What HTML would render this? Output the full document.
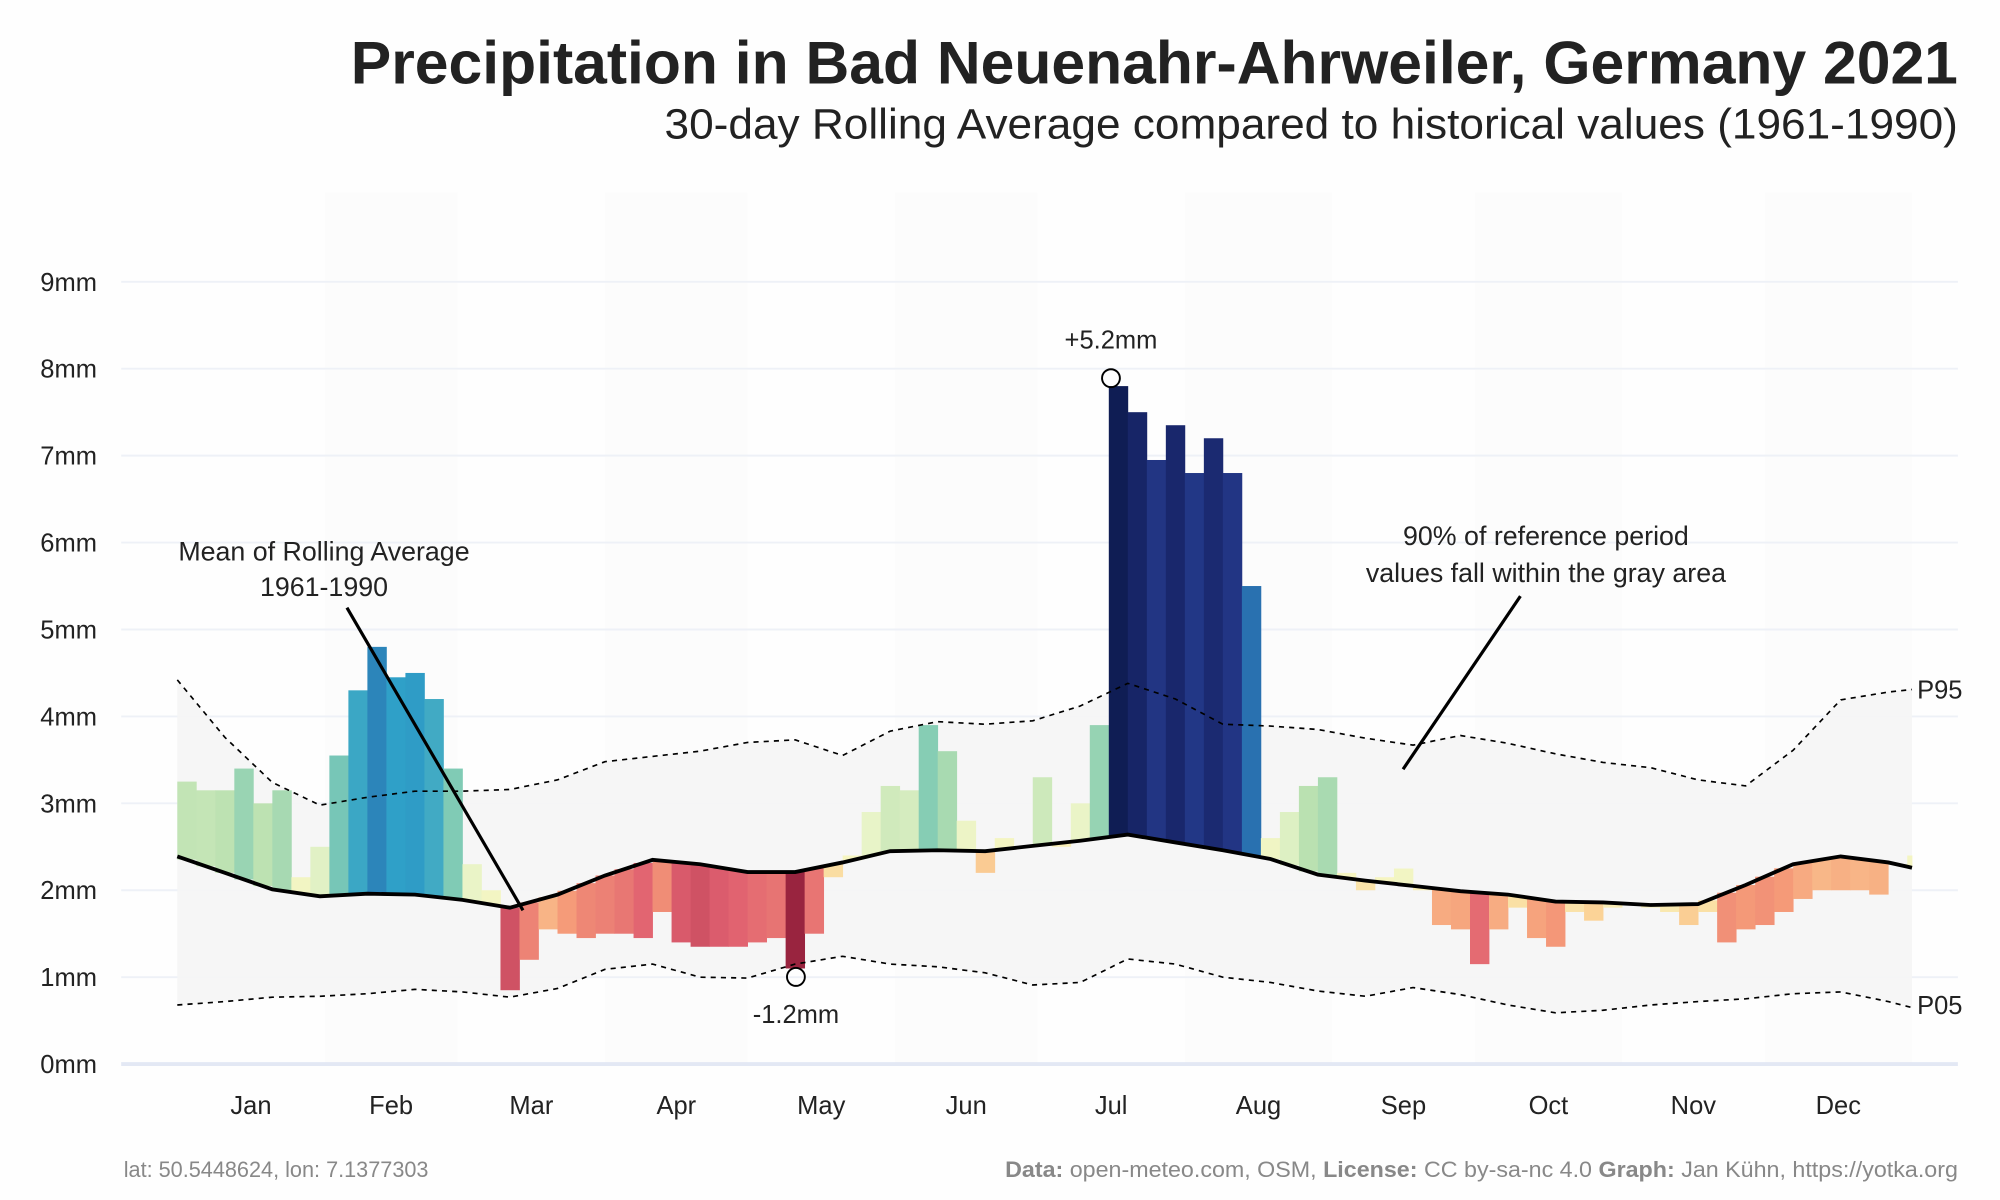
<!DOCTYPE html>
<html><head><meta charset="utf-8"><style>
html,body{margin:0;padding:0;background:#fff;}
svg{display:block;font-family:"Liberation Sans",sans-serif;}
</style></head><body>
<svg id="chart" width="2000" height="1200" viewBox="0 0 1568 936" preserveAspectRatio="none" xmlns="http://www.w3.org/2000/svg">
<rect x="0" y="0" width="1568" height="936" fill="#fefefe"/>
<g id="bands"></g>
<g id="grid"></g>
<path id="band" fill="#f5f5f5" opacity="0.9"/>
<g id="bars"></g>
<path id="p95" fill="none" stroke="#000" stroke-width="1.3" stroke-dasharray="4,4"/>
<path id="p05" fill="none" stroke="#000" stroke-width="1.3" stroke-dasharray="4,4"/>
<path id="meanline" fill="none" stroke="#000" stroke-width="3"/>
<g id="ylabels"></g>
<g id="xlabels"></g>
<text x="1535" y="65" text-anchor="end" font-size="47" font-weight="bold" fill="#222" textLength="1260" lengthAdjust="spacingAndGlyphs">Precipitation in Bad Neuenahr-Ahrweiler, Germany 2021</text>
<text x="1535" y="108" text-anchor="end" font-size="33" fill="#222" textLength="1014" lengthAdjust="spacingAndGlyphs">30-day Rolling Average compared to historical values (1961-1990)</text>
<text x="254" y="437" text-anchor="middle" font-size="21" fill="#222">Mean of Rolling Average</text>
<text x="254" y="465" text-anchor="middle" font-size="21" fill="#222">1961-1990</text>
<line x1="272" y1="474" x2="410" y2="710" stroke="#000" stroke-width="2.5"/>
<text x="1212" y="425" text-anchor="middle" font-size="21" fill="#222">90% of reference period</text>
<text x="1212" y="454" text-anchor="middle" font-size="21" fill="#222">values fall within the gray area</text>
<line x1="1192" y1="465" x2="1100" y2="600" stroke="#000" stroke-width="2.5"/>
<text x="871" y="272" text-anchor="middle" font-size="20" fill="#222">+5.2mm</text>
<circle cx="871" cy="295" r="7" fill="none" stroke="#000" stroke-width="1.5"/>
<text x="624" y="798" text-anchor="middle" font-size="20" fill="#222">-1.2mm</text>
<circle cx="624" cy="762" r="7" fill="none" stroke="#000" stroke-width="1.5"/>
<text x="1503" y="545" font-size="20" fill="#222">P95</text>
<text x="1503" y="791" font-size="20" fill="#222">P05</text>
<text x="97" y="918" font-size="17" fill="#888">lat: 50.5448624, lon: 7.1377303</text>
<text x="1535" y="918" text-anchor="end" font-size="17" fill="#888" textLength="747" lengthAdjust="spacingAndGlyphs"><tspan font-weight="bold">Data:</tspan> open-meteo.com, OSM, <tspan font-weight="bold">License:</tspan> CC by-sa-nc 4.0  <tspan font-weight="bold">Graph:</tspan> Jan Kühn, https://yotka.org</text>
</svg>
<script>
const refDays = [0,10,20,30,40,50,60,70,80,90,100,110,120,130,140,150,160,170,180,190,200,210,220,230,240,250,260,270,280,290,300,310,320,330,340,350,360,365];
const meanVals = [2.39,2.20,2.01,1.93,1.96,1.95,1.89,1.80,1.95,2.17,2.35,2.30,2.21,2.21,2.32,2.45,2.46,2.45,2.51,2.57,2.64,2.55,2.46,2.36,2.18,2.11,2.05,1.99,1.95,1.87,1.86,1.83,1.84,2.06,2.30,2.39,2.32,2.26];
const p95Vals = [4.42,3.76,3.24,2.98,3.07,3.14,3.14,3.16,3.27,3.48,3.54,3.60,3.70,3.73,3.55,3.83,3.94,3.91,3.95,4.12,4.38,4.20,3.91,3.89,3.85,3.75,3.67,3.78,3.69,3.57,3.47,3.41,3.27,3.20,3.61,4.19,4.28,4.31];
const p05Vals = [0.68,0.72,0.77,0.78,0.81,0.86,0.83,0.77,0.87,1.09,1.15,1.00,0.99,1.15,1.24,1.15,1.12,1.05,0.91,0.94,1.21,1.15,1.00,0.94,0.84,0.78,0.88,0.80,0.68,0.59,0.62,0.68,0.72,0.75,0.81,0.83,0.72,0.65];
const rollStep = 4;
const rollVals = [3.25,3.15,3.15,3.4,3.0,3.15,2.15,2.5,3.55,4.3,4.8,4.45,4.5,4.2,3.4,2.3,2.0,0.85,1.2,1.55,1.5,1.45,1.5,1.5,1.45,1.75,1.4,1.35,1.35,1.35,1.4,1.45,1.1,1.5,2.15,2.4,2.9,3.2,3.15,3.9,3.6,2.8,2.2,2.6,2.5,3.3,2.5,3.0,3.9,7.8,7.5,6.95,7.35,6.8,7.2,6.8,5.5,2.6,2.9,3.2,3.3,2.2,2.0,2.15,2.25,2.0,1.6,1.55,1.15,1.55,1.8,1.45,1.35,1.75,1.65,1.8,1.85,1.8,1.75,1.6,1.75,1.4,1.55,1.6,1.75,1.9,2.0,2.0,2.0,1.95,2.3,2.4];
const yTicks = [0,1,2,3,4,5,6,7,8,9];
const monthNames = ["Jan","Feb","Mar","Apr","May","Jun","Jul","Aug","Sep","Oct","Nov","Dec"];
const monthStarts = [0,31,59,90,120,151,181,212,243,273,304,334,365];

const X0=139, X1=1499, Y0=830, PXMM=67.8;
function xs(d){return X0+(X1-X0)*d/365;}
function ys(v){return Y0-v*PXMM;}
function interp(arr,d){for(let i=0;i<refDays.length-1;i++){if(d<=refDays[i+1]){const t=(d-refDays[i])/(refDays[i+1]-refDays[i]);return arr[i]+(arr[i+1]-arr[i])*t;}}return arr[arr.length-1];}
const NS="http://www.w3.org/2000/svg";
function mk(t,a,p){const e=document.createElementNS(NS,t);for(const k in a)e.setAttribute(k,a[k]);p.appendChild(e);return e;}

const bands=document.getElementById('bands');
for(let m=1;m<12;m+=2){
  const r=mk('rect',{x:xs(monthStarts[m]),y:150,width:xs(monthStarts[m+1])-xs(monthStarts[m]),height:680,fill:'#f7f7f7',opacity:0.3},bands);
  
  
}
const grid=document.getElementById('grid'), yl=document.getElementById('ylabels');
yTicks.forEach(v=>{
  const l=mk('line',{x1:95,x2:1535,y1:ys(v),y2:ys(v),stroke:v===0?'#e3e8f4':'#eef1f7','stroke-width':v===0?3:1.5},grid);
  
  
  const t=mk('text',{x:76,y:ys(v)+7,'text-anchor':'end','font-size':20,fill:'#222'},yl);
  t.textContent=v+'mm';
  
  
});
const xl=document.getElementById('xlabels');
monthNames.forEach((n,i)=>{
  const t=mk('text',{x:xs((monthStarts[i]+monthStarts[i+1])/2),y:869,'text-anchor':'middle','font-size':20,fill:'#222'},xl);
  t.textContent=n;
  
  
});
function line(arr){return refDays.map((d,i)=>(i?'L':'M')+xs(d).toFixed(1)+','+ys(arr[i]).toFixed(1)).join(' ');}
document.getElementById('meanline').setAttribute('d',line(meanVals));
document.getElementById('p95').setAttribute('d',line(p95Vals));
document.getElementById('p05').setAttribute('d',line(p05Vals));
let bd=line(p95Vals);
for(let i=refDays.length-1;i>=0;i--)bd+=' L'+xs(refDays[i]).toFixed(1)+','+ys(p05Vals[i]).toFixed(1);
document.getElementById('band').setAttribute('d',bd+' Z');

const stops=[[-1.2,[122,10,42]],[-0.9,[224,96,112]],[-0.5,[245,154,120]],[-0.2,[251,213,152]],[0,[248,245,192]],[0.5,[232,244,200]],[1,[184,224,176]],[1.5,[128,203,181]],[2.5,[47,160,200]],[3.5,[37,82,160]],[4.5,[33,48,127]],[5.2,[14,28,82]]];
function col(d){if(d<=stops[0][0])return 'rgb('+stops[0][1]+')';for(let i=0;i<stops.length-1;i++){if(d<=stops[i+1][0]){const t=(d-stops[i][0])/(stops[i+1][0]-stops[i][0]);const c=stops[i][1].map((v,j)=>Math.round(v+(stops[i+1][1][j]-v)*t));return 'rgb('+c+')';}}return 'rgb('+stops[stops.length-1][1]+')';}
const bars=document.getElementById('bars');
rollVals.forEach((v,i)=>{
  const d=i*rollStep, m=interp(meanVals,d+rollStep/2);
  const xa=xs(d), xb=xs(Math.min(d+rollStep,365));
  const r=mk('rect',{x:xa,width:xb-xa+0.3,y:ys(Math.max(v,m)),height:Math.abs(ys(v)-ys(m)),fill:col(v-m)},bars);
  
  
});
</script>
</body></html>
